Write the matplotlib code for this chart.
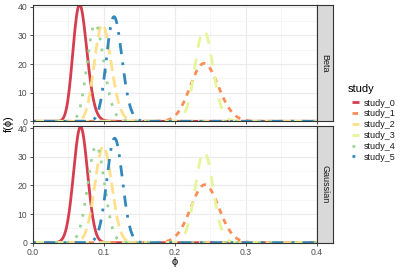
import numpy as np
import matplotlib.pyplot as plt
from math import lgamma

plt.rcParams['font.family'] = ['Liberation Sans', 'DejaVu Sans']

# studies, fitted mean and sd of phi
studies = ['study_0', 'study_1', 'study_2', 'study_3', 'study_4', 'study_5']
means = [0.067, 0.242, 0.099, 0.241, 0.089, 0.115]
sds = [0.00985, 0.0197, 0.01187, 0.01254, 0.01177, 0.01093]
colors = ['#D53E4F', '#FC8D59', '#FEE08B', '#E6F598', '#99D594', '#3288BD']
dashes = [None, (2, 2), (4, 2), (4, 4), (1, 3), (1, 3, 4, 3)]
panels = ['Beta', 'Gaussian']
xticks = [0.0, 0.1, 0.2, 0.3, 0.4]
yticks = [0, 10, 20, 30, 40]

x = np.linspace(0, 0.4, 401)

def gauss(x, m, s):
    return np.exp(-0.5 * ((x - m) / s) ** 2) / (s * np.sqrt(2 * np.pi))

def beta(x, m, s):
    k = m * (1 - m) / s ** 2 - 1
    a, b = m * k, (1 - m) * k
    xx = np.clip(x, 1e-12, 1 - 1e-12)
    lb = lgamma(a) + lgamma(b) - lgamma(a + b)
    return np.exp((a - 1) * np.log(xx) + (b - 1) * np.log(1 - xx) - lb)

fig = plt.figure(figsize=(4.02, 2.73), dpi=100)
W, H = 402, 273
boxes = [(4.7, 121.3), (126, 242.7)]
L, R, S = 33, 317, 333

ymax = 0
curves = {}
for p in panels:
    f = beta if p == 'Beta' else gauss
    curves[p] = [f(x, m, s) for m, s in zip(means, sds)]
    ymax = max(ymax, max(c.max() for c in curves[p]))

lines = []
for (top, bot), p in zip(boxes, panels):
    ax = fig.add_axes([L / W, 1 - bot / H, (R - L) / W, (bot - top) / H])
    ax.set_facecolor('white')
    for i, c in enumerate(curves[p]):
        ln, = ax.plot(x, c, color=colors[i], lw=2.0, label=studies[i],
                      solid_capstyle='butt', dash_capstyle='butt')
        if dashes[i] is not None:
            ln.set_dashes(dashes[i])
        if p == 'Beta':
            lines.append(ln)
    ax.set_xlim(0, 0.4)
    ax.set_ylim(0, ymax)
    ax.set_xticks(xticks)
    ax.set_yticks(yticks)
    ax.set_xticks([0.05, 0.15, 0.25, 0.35], minor=True)
    ax.set_yticks([5, 15, 25, 35], minor=True)
    ax.grid(True, which='major', color='#EBEBEB', lw=0.8)
    ax.grid(True, which='minor', color='#F3F3F3', lw=0.5)
    ax.set_axisbelow(True)
    for sp in ax.spines.values():
        sp.set_color('#333333')
        sp.set_linewidth(0.8)
    ax.tick_params(which='major', length=2.5, width=0.6, color='#333333',
                   labelsize=6.2, labelcolor='#4D4D4D', pad=1.5)
    ax.tick_params(which='minor', length=0)
    ax.set_yticklabels([str(v) for v in yticks])
    if p == 'Beta':
        ax.tick_params(axis='x', labelbottom=False)
    else:
        ax.set_xticklabels(['0.0', '0.1', '0.2', '0.3', '0.4'])
    # strip on the right
    sax = fig.add_axes([R / W, 1 - bot / H, (S - R) / W, (bot - top) / H])
    sax.set_facecolor('#D9D9D9')
    sax.set_xticks([])
    sax.set_yticks([])
    for sp in sax.spines.values():
        sp.set_color('#333333')
        sp.set_linewidth(0.8)
    sax.text(0.5, 0.5, p, rotation=-90, ha='center', va='center',
             fontsize=6.5, color='#1A1A1A', transform=sax.transAxes)

fig.text(175 / W, 1 - 262 / H, 'ϕ', ha='center', va='center', fontsize=8, color='black')
fig.text(9 / W, 1 - 124 / H, 'f(ϕ)', ha='center', va='center', rotation=90,
         fontsize=8, color='black')

fig.text(348 / W, 1 - 89 / H, 'study', ha='left', va='center', fontsize=8, color='black')
leg = fig.legend(handles=lines, labels=studies, loc='upper left',
                 bbox_to_anchor=(352 / W, 1 - 98.5 / H), frameon=False,
                 fontsize=6.5, borderpad=0, borderaxespad=0,
                 handlelength=0.75, handletextpad=0.6, labelspacing=0.2)
for t in leg.get_texts():
    t.set_color('#1A1A1A')

fig.savefig('out.png', dpi=100)
